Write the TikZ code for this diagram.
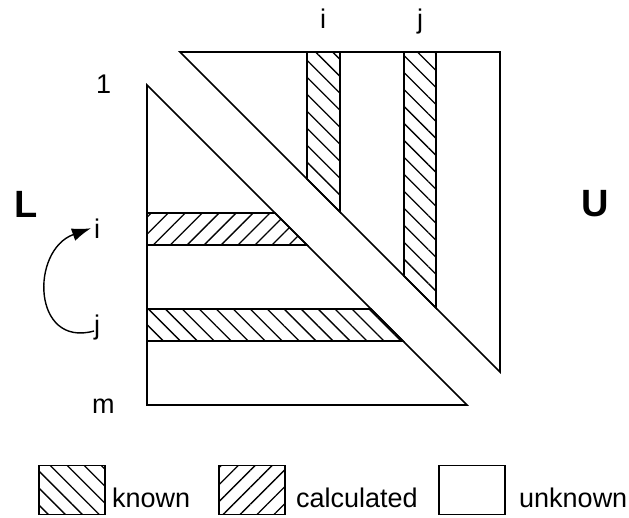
\documentclass[tikz,border=0pt]{standalone}
\usepackage{fontspec}
\setmainfont{Liberation Sans}
\usetikzlibrary{arrows.meta, patterns.meta, positioning}

\tikzstyle{part} = [
    draw=black,
    line width=1.6pt
]
\tikzstyle{known} = [
    part,
    pattern={Lines[angle=-45, distance=12pt, line width=1.3pt]}
]
\tikzstyle{calculated} = [
    part,
    pattern={Lines[angle=45, distance=12pt, line width=1.3pt]}
]
\tikzstyle{legbox} = [
    rectangle,
    minimum width=66pt,
    minimum height=49pt,
    inner sep=0pt
]
\tikzstyle{lbl} = [font=\fontsize{27}{32}\selectfont, inner sep=0pt]
\tikzstyle{side} = [font=\bfseries\fontsize{38}{44}\selectfont, inner sep=0pt]
\tikzstyle{arrow} = [line width=1.4pt, -{Latex[length=19pt, width=13pt]}]

\begin{document}
\begin{tikzpicture}[x=1pt, y=-1pt]
\useasboundingbox (0,0) rectangle (629,517);

% lower triangle L with rows i and j
\draw [part] (147,85) -- (147,405) -- (467,405) -- cycle;
\draw [calculated] (147,213) -- (275,213) -- (307,245) -- (147,245) -- cycle;
\draw [known] (147,309) -- (371,309) -- (403,341) -- (147,341) -- cycle;

% upper triangle U with columns i and j
\draw [part] (180,52) -- (500,52) -- (500,372) -- cycle;
\draw [known] (307,52) -- (340,52) -- (340,212) -- (307,179) -- cycle;
\draw [known] (404,52) -- (436,52) -- (436,308) -- (404,276) -- cycle;

\node (Lname) [side] at (26,204) {L};
\node (Uname) [side] at (595,204) {U};

\node (one) [lbl, anchor=base west] at (96,93) {1};
\node (li) [lbl, anchor=base west] at (94,238) {i};
\node (lj) [lbl, anchor=base west] at (94,334) {j};
\node (lm) [lbl, anchor=base west] at (92,413) {m};
\node (ti) [lbl, anchor=base] at (323,28) {i};
\node (tj) [lbl, anchor=base] at (420,28) {j};

\draw [arrow] ([yshift=-4pt]lj.west) .. controls (32,348) and (30,250) .. ([xshift=-3pt]li.west);

% legend
\node (kbox) [legbox, known] at (72,490) {};
\node (cbox) [legbox, calculated] at (252,490) {};
\node (ubox) [legbox, part] at (472,490) {};
\node (ktxt) [lbl, anchor=base west] at (112,507) {known};
\node (ctxt) [lbl, anchor=base west] at (296,507) {calculated};
\node (utxt) [lbl, anchor=base west] at (519,507) {unknown};

\end{tikzpicture}
\end{document}
